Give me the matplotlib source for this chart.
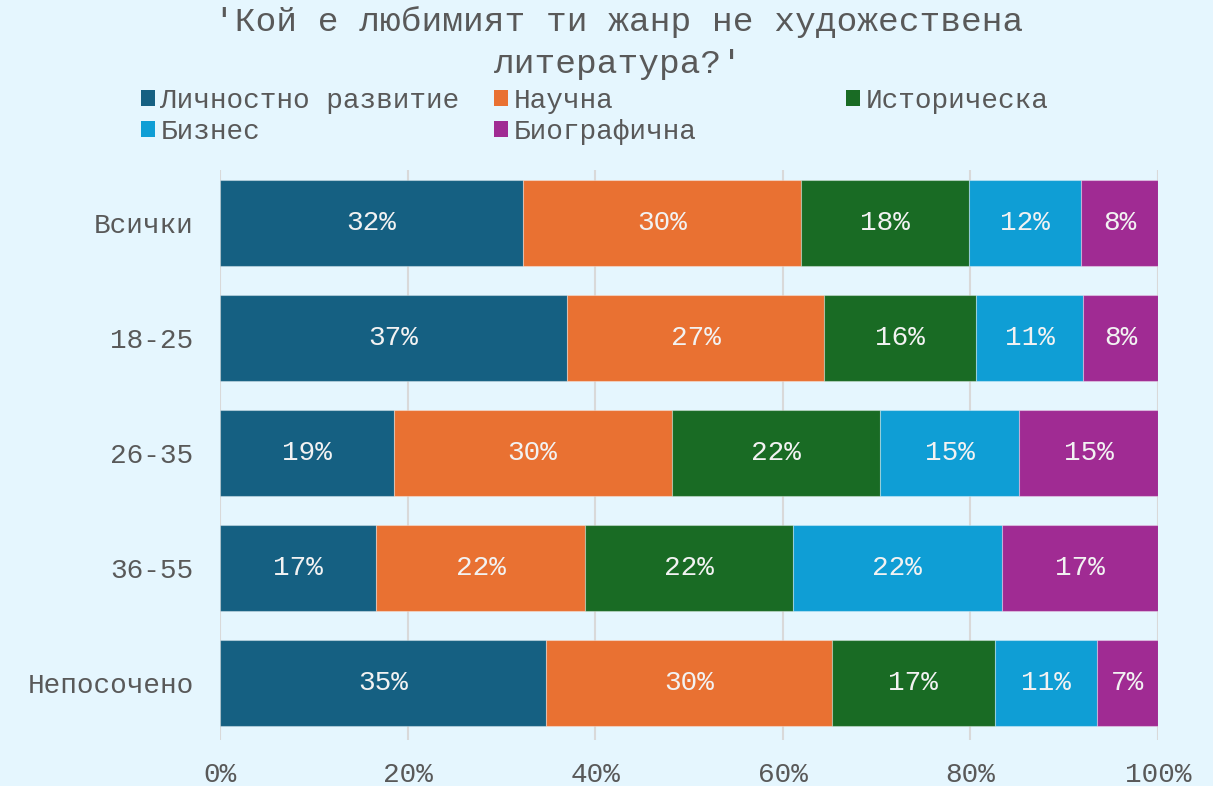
import matplotlib
matplotlib.use("Agg")
import matplotlib.pyplot as plt
from matplotlib.patches import Patch
import numpy as np

categories = ["Всички", "18-25", "26-35", "36-55", "Непосочено"]
series_names = ["Личностно развитие", "Научна", "Историческа", "Бизнес", "Биографична"]
lichnostno = [32.3, 37.0, 18.52, 16.67, 34.78]
nauchna = [29.6, 27.4, 29.63, 22.22, 30.43]
istoricheska = [17.9, 16.2, 22.22, 22.22, 17.39]
biznes = [12.0, 11.4, 14.81, 22.22, 10.87]
biografichna = [8.2, 8.0, 14.81, 16.67, 6.52]
x_ticks = [0, 20, 40, 60, 80, 100]
x_tick_labels = ["0%", "20%", "40%", "60%", "80%", "100%"]
title = "'Кой е любимият ти жанр не художествена\nлитература?'"

colors = ["#156082", "#E97132", "#196B24", "#0F9ED5", "#A02B93"]
bg = "#E5F6FE"
txt = "#595959"
font = ["Liberation Mono", "DejaVu Sans Mono"]
plt.rcParams['font.family'] = font

fig = plt.figure(figsize=(12.13, 7.86), dpi=100, facecolor=bg)
ax = fig.add_axes([220/1213, (786-740)/786, (1158-220)/1213, (740-170)/786])
ax.set_facecolor(bg)

series = [lichnostno, nauchna, istoricheska, biznes, biografichna]
y = np.arange(len(categories))
left = np.zeros(len(categories))
for name, vals, c in zip(series_names, series, colors):
    vals = np.array(vals)
    ax.barh(y, vals, left=left, height=0.75, color=c, edgecolor=(1, 1, 1, 0.35),
            linewidth=0.8, label=name, zorder=2)
    for yi, l, v in zip(y, left, vals):
        ax.text(l + v / 2, yi, f"{round(v):d}%", ha="center", va="center",
                color="#F2F2F2", fontsize=20, zorder=3)
    left += vals

ax.set_xlim(0, 100)
ax.set_ylim(4.5, -0.465)
ax.set_xticks(x_ticks)
ax.set_xticklabels(x_tick_labels, fontsize=20, color=txt)
ax.set_yticks(y)
ax.set_yticklabels(categories, fontsize=20, color=txt)
ax.tick_params(axis="both", length=0)
ax.tick_params(axis="y", pad=19)
ax.tick_params(axis="x", pad=16)
ax.grid(axis="x", color="#D9D9D9", linewidth=1.5, zorder=0)
ax.set_axisbelow(True)
for s in ax.spines.values():
    s.set_visible(False)

fig.text(0.510, 1 - 6/786, title, ha="center", va="top", fontsize=24.8, color=txt,
         linespacing=1.45)

handles = [Patch(facecolor=c, edgecolor="none") for c in colors]
cols = [([0, 3], 141), ([1, 4], 494), ([2], 846)]
for idx, xpx in cols:
    leg = fig.legend([handles[i] for i in idx], [series_names[i] for i in idx],
                     loc="upper left", bbox_to_anchor=(xpx/1213, 1 - 88/786),
                     frameon=False, fontsize=20, handlelength=0.5, handleheight=0.5,
                     handletextpad=0.2, labelspacing=0.18, borderpad=0, borderaxespad=0)
    for t in leg.get_texts():
        t.set_color(txt)

fig.savefig("out.png", dpi=100, facecolor=bg)
